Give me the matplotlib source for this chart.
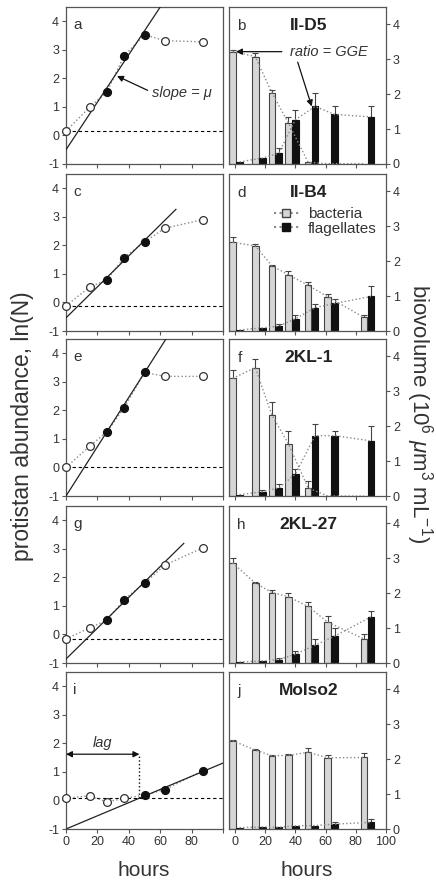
import numpy as np
import matplotlib.pyplot as plt
from matplotlib.lines import Line2D

plt.rcParams['font.family'] = ['Liberation Sans', 'DejaVu Sans']
plt.rcParams['axes.unicode_minus'] = False
plt.rcParams['mathtext.fontset'] = 'custom'
plt.rcParams['mathtext.rm'] = 'Liberation Sans'
plt.rcParams['mathtext.it'] = 'Liberation Sans:italic'

INK = '#333333'
EDGE = '#555555'
DOT = '#8a8a8a'
BACT = '#d6d6d6'

hours = [0, 15, 26, 37, 50, 63, 87]

# ln(N) of protist abundance (left column)
ln_a = [0.15, 0.99, 1.52, 2.79, 3.53, 3.32, 3.28]
ln_c = [-0.12, 0.54, 0.79, 1.57, 2.12, 2.60, 2.90]
ln_e = [0.00, 0.74, 1.25, 2.09, 3.33, 3.19, 3.19]
ln_g = [-0.16, 0.23, 0.50, 1.22, 1.80, 2.43, 3.03]
ln_i = [0.08, 0.16, -0.05, 0.07, 0.19, 0.38, 1.04]

# points in exponential growth (filled symbols)
growth_a = [2, 3, 4]
growth_c = [2, 3, 4]
growth_e = [2, 3, 4]
growth_g = [2, 3, 4]
growth_i = [4, 5, 6]

# regression lines: intercept, slope, last hour drawn
fit_a = (-0.50, 0.0833, 62)
fit_c = (-0.54, 0.0543, 70)
fit_e = (-1.00, 0.0864, 66)
fit_g = (-0.86, 0.0540, 75)
fit_i = (-1.00, 0.0231, 100)

# biovolume, 10^6 um^3 per mL (right column) and upper error
bact_b = [3.22, 3.08, 2.04, 1.17, 0.05, 0.01, 0.01]
bact_b_err = [0.05, 0.10, 0.08, 0.17, 0, 0, 0]
flag_b = [0.06, 0.17, 0.31, 1.27, 1.65, 1.42, 1.35]
flag_b_err = [0, 0, 0.14, 0.29, 0.38, 0.23, 0.31]

bact_d = [2.54, 2.44, 1.87, 1.61, 1.31, 0.98, 0.39]
bact_d_err = [0.16, 0.05, 0.03, 0.10, 0.10, 0.09, 0.06]
flag_d = [0.03, 0.09, 0.14, 0.35, 0.67, 0.79, 0.99]
flag_d_err = [0, 0, 0.06, 0.10, 0.09, 0.14, 0.30]

bact_f = [3.37, 3.68, 2.32, 1.49, 0.23, 0.0, 0.0]
bact_f_err = [0.24, 0.24, 0.37, 0.36, 0.20, 0, 0]
flag_f = [0.04, 0.12, 0.23, 0.63, 1.73, 1.73, 1.58]
flag_f_err = [0, 0.05, 0.10, 0.13, 0.34, 0.12, 0.43]

bact_h = [2.87, 2.29, 2.02, 1.90, 1.62, 1.17, 0.69]
bact_h_err = [0.13, 0.03, 0.08, 0.10, 0.14, 0.17, 0.15]
flag_h = [0.03, 0.06, 0.10, 0.25, 0.51, 0.77, 1.32]
flag_h_err = [0, 0, 0.05, 0.09, 0.19, 0.22, 0.17]

bact_j = [2.53, 2.26, 2.10, 2.11, 2.20, 2.04, 2.05]
bact_j_err = [0.02, 0.03, 0.02, 0.05, 0.12, 0.08, 0.13]
flag_j = [0.04, 0.06, 0.05, 0.09, 0.10, 0.14, 0.19]
flag_j_err = [0, 0, 0, 0, 0, 0.05, 0.09]

strains = ['II-D5', 'II-B4', '2KL-1', '2KL-27', 'MoIso2']
left_letters = ['a', 'c', 'e', 'g', 'i']
right_letters = ['b', 'd', 'f', 'h', 'j']

left_rows = [(ln_a, growth_a, fit_a), (ln_c, growth_c, fit_c),
             (ln_e, growth_e, fit_e), (ln_g, growth_g, fit_g),
             (ln_i, growth_i, fit_i)]
right_rows = [(bact_b, bact_b_err, flag_b, flag_b_err),
              (bact_d, bact_d_err, flag_d, flag_d_err),
              (bact_f, bact_f_err, flag_f, flag_f_err),
              (bact_h, bact_h_err, flag_h, flag_h_err),
              (bact_j, bact_j_err, flag_j, flag_j_err)]

W, H = 436, 880
fig = plt.figure(figsize=(W / 100, H / 100), dpi=100)

bottoms_px = [164, 331, 496, 663, 829]
ax_h = 157 / H
bar_w = 4.4


def style(ax):
    for s in ax.spines.values():
        s.set_color(EDGE)
        s.set_linewidth(0.9)
    ax.tick_params(direction='out', length=3, width=0.8, colors=EDGE,
                   labelcolor=INK, labelsize=9, pad=2)


hrs = np.array(hours)
for r in range(5):
    b = 1 - bottoms_px[r] / H
    last = r == 4

    # left: ln(N) vs time
    ax = fig.add_axes([66 / W, b, 157 / W, ax_h])
    style(ax)
    ln, grow, (b0, b1, xend) = left_rows[r]
    ln = np.array(ln)
    ax.axhline(ln[0], color='k', lw=0.8, ls=(0, (3, 2.5)), zorder=1)
    ax.plot(hrs, ln, ls=':', color=DOT, lw=1.0, zorder=2)
    xf = np.array([0, xend])
    ax.plot(xf, b0 + b1 * xf, color='#222222', lw=0.9, zorder=3)
    opn = [k for k in range(len(hrs)) if k not in grow]
    ax.plot(hrs[opn], ln[opn], 'o', ms=5.6, mfc='white', mec='#333333',
            mew=0.9, ls='none', zorder=4, clip_on=False)
    ax.plot(hrs[grow], ln[grow], 'o', ms=5.6, mfc='#111111', mec='#111111',
            ls='none', zorder=4, clip_on=False)
    ax.set_xlim(0, 100)
    ax.set_ylim(-1, 4.5)
    ax.set_xticks([0, 20, 40, 60, 80, 100])
    ax.set_yticks([-1, 0, 1, 2, 3, 4])
    if last:
        ax.set_xticklabels(['0', '20', '40', '60', '80', ''])
    else:
        ax.set_xticklabels([])
    ax.text(0.045, 0.885, left_letters[r], transform=ax.transAxes,
            fontsize=11, color=INK, ha='left', va='center')

    if r == 0:
        tip_x = 31
        ax.annotate('', xy=(tip_x + 1.5, b0 + b1 * tip_x), xytext=(52, 1.58),
                    arrowprops=dict(arrowstyle='-|>', color='#111111', lw=0.9,
                                    mutation_scale=9, shrinkA=0, shrinkB=0))
        ax.text(55, 1.47, 'slope = μ', fontsize=10.5, style='italic',
                color=INK, ha='left', va='center')
    if r == 4:
        lag = (ln[0] - b0) / b1
        y_arrow = 1.62
        ax.plot([lag, lag], [ln[0], y_arrow], ls=':', color='#111111', lw=1.0)
        ax.annotate('', xy=(0, y_arrow), xytext=(lag, y_arrow),
                    arrowprops=dict(arrowstyle='<|-|>', color='#111111', lw=0.9,
                                    mutation_scale=9, shrinkA=0, shrinkB=0))
        ax.text(lag / 2, 2.0, 'lag', fontsize=10.5, style='italic',
                color=INK, ha='center', va='center')

    # right: biovolume bars
    ax = fig.add_axes([229 / W, b, 157 / W, ax_h])
    style(ax)
    bact, bact_err, flag, flag_err = [np.array(v) for v in right_rows[r]]
    xb = hrs - 1.6
    xg = hrs + 3.0
    ax.bar(xb, bact, width=bar_w, color=BACT, edgecolor='#444444', lw=0.8, zorder=2)
    ax.bar(xg, flag, width=bar_w, color='#111111', edgecolor='#111111', lw=0.8, zorder=2)
    for x, v, e in ((xb, bact, bact_err), (xg, flag, flag_err)):
        m = e > 0
        ax.errorbar(x[m], v[m], yerr=[np.zeros(m.sum()), e[m]], fmt='none',
                    ecolor='#444444', elinewidth=0.8, capsize=2.2, capthick=0.8,
                    zorder=1)
    ax.plot(xb, bact, ls=':', color=DOT, lw=1.0, zorder=3)
    ax.plot(xg, flag, ls=':', color=DOT, lw=1.0, zorder=3)
    ax.set_xlim(-4, 100)
    ax.set_ylim(0, 4.5)
    ax.set_xticks([0, 20, 40, 60, 80, 100])
    ax.set_yticks([0, 1, 2, 3, 4])
    ax.yaxis.tick_right()
    if not last:
        ax.set_xticklabels([])
    ax.text(0.053, 0.88, right_letters[r], transform=ax.transAxes,
            fontsize=11, color=INK, ha='left', va='center')
    ax.text(0.505, 0.88, strains[r], transform=ax.transAxes, fontsize=12.5,
            fontweight='bold', color='#222222', ha='center', va='center')

    if r == 0:
        ax.annotate('', xy=(xb[0] + bar_w / 2, bact[0]), xytext=(31, bact[0]),
                    arrowprops=dict(arrowstyle='-|>', color='#111111', lw=0.9,
                                    mutation_scale=9, shrinkA=0, shrinkB=0))
        ax.annotate('', xy=(xg[4] - bar_w / 2, flag[4]), xytext=(41.5, 2.92),
                    arrowprops=dict(arrowstyle='-|>', color='#111111', lw=0.9,
                                    mutation_scale=9, shrinkA=0, shrinkB=0))
        ax.text(62, 3.22, 'ratio = GGE', fontsize=10.5, style='italic',
                color=INK, ha='center', va='center')
    if r == 1:
        handles = [Line2D([], [], ls=':', color=DOT, marker='s', ms=6,
                          mfc=BACT, mec='#444444'),
                   Line2D([], [], ls=':', color=DOT, marker='s', ms=6,
                          mfc='#111111', mec='#111111')]
        ax.legend(handles, ['bacteria', 'flagellates'], loc='upper right',
                  bbox_to_anchor=(0.94, 0.79), frameon=False, fontsize=11,
                  handlelength=1.6, handletextpad=0.6, labelspacing=0.05,
                  borderpad=0, borderaxespad=0, labelcolor=INK)

fig.text(23 / W, 1 - 426 / H, 'protistan abundance, ln(N)', rotation=90,
         fontsize=16.5, color=INK, ha='center', va='center')
fig.text(419 / W, 1 - 414 / H,
         r'biovolume (10$^6$ $\mu$m$^3$ mL$^{-1}$)', rotation=270,
         fontsize=16, color=INK, ha='center', va='center')
fig.text(144 / W, 1 - 876 / H, 'hours', fontsize=15, color=INK,
         ha='center', va='baseline')
fig.text(307 / W, 1 - 876 / H, 'hours', fontsize=15, color=INK,
         ha='center', va='baseline')

fig.savefig('out.png', dpi=100)
